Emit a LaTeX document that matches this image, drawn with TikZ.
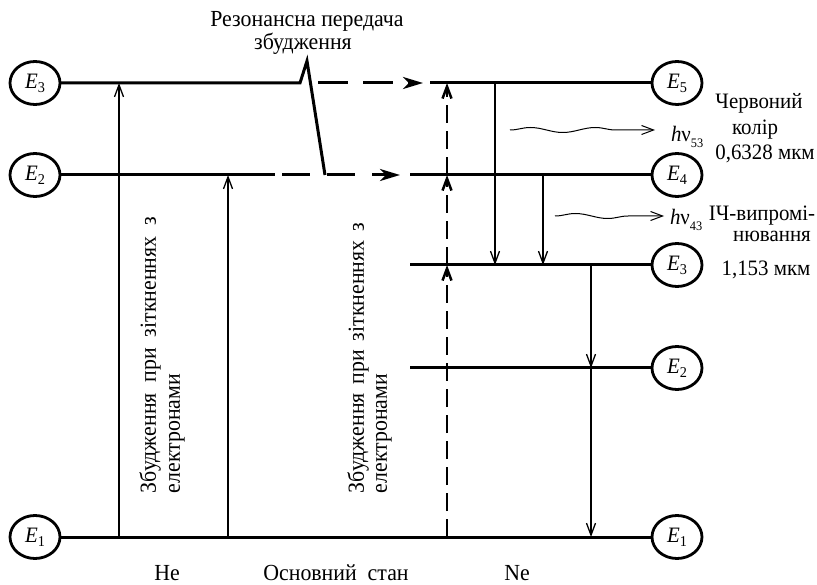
\documentclass[tikz,border=0pt]{standalone}
\usepackage{fontspec}
\setmainfont{Liberation Serif}[FakeStretch=0.95]
\usetikzlibrary{arrows.meta,decorations.pathmorphing,shapes.geometric}
\newcommand{\elab}[1]{\textit{E}\raisebox{-0.4ex}{\fontsize{15}{15}\selectfont #1}}
\newcommand{\hnu}[1]{\textit{h}ν\raisebox{-0.5ex}{\fontsize{13}{13}\selectfont #1}}
\begin{document}
\begin{tikzpicture}[x=1pt,y=-1pt,
  every node/.style={inner sep=0pt,outer sep=0pt},
  txt/.style={font=\fontsize{23}{26}\selectfont},
  rtxt/.style={font=\fontsize{22}{25}\selectfont},
  lvlcirc/.style={draw,ellipse,line width=2.8pt,minimum width=50pt,minimum height=43pt,font=\fontsize{22}{25}\selectfont},
  level/.style={line width=3pt},
  trans/.style={line width=1.3pt,-{Straight Barb[length=12pt,width=9pt]}},
  hdash/.style={line width=3pt,dash pattern=on 28pt off 17pt,-{Stealth[length=20pt,width=12pt,inset=6pt]}},
  hdashb/.style={line width=3pt,dash pattern=on 30pt off 15pt,-{Stealth[length=20pt,width=12pt,inset=6pt]}},
  dvert/.style={line width=2.5pt,dash pattern=on 18pt off 8pt,-{Straight Barb[length=12pt,width=9pt]}},
  wave/.style={line width=1pt,decorate,decoration={snake,amplitude=2.5pt,segment length=65pt,post length=10pt},-{Straight Barb[length=12pt,width=9pt]}}
]
\useasboundingbox (0,0) rectangle (817,585);
% circles
\node[lvlcirc] (cHe3) at (35,83) {\elab{3}};
\node[lvlcirc] (cHe2) at (35,175) {\elab{2}};
\node[lvlcirc] (cHe1) at (35,537) {\elab{1}};
\node[lvlcirc] (cNe5) at (677,83) {\elab{5}};
\node[lvlcirc] (cNe4) at (677,175) {\elab{4}};
\node[lvlcirc] (cNe3) at (677,265) {\elab{3}};
\node[lvlcirc] (cNe2) at (677,368) {\elab{2}};
\node[lvlcirc] (cNe1) at (677,537) {\elab{1}};
% coordinates
\coordinate (he3z) at (300,83);
\coordinate (peak) at (307,61);
\coordinate (he2z) at (325,175);
\coordinate (he2e) at (275,175);
\coordinate (d2s) at (282,175);
\coordinate (d2e) at (400,175);
\coordinate (d3s) at (318,83);
\coordinate (d3e) at (423,83);
\coordinate (n5) at (430,83);
\coordinate (n4) at (410,175);
\coordinate (n3) at (410,265);
\coordinate (n2) at (410,368);
% He levels
\draw[level,line join=miter] (cHe3.east) -- (he3z) -- (peak) -- (he2z);
\draw[level] (cHe2.east) -- (he2e);
\draw[level] (cHe1.east) -- (cNe1.west);
\draw[hdash] (d2s) -- (d2e);
\draw[hdashb] (d3s) -- (d3e);
% Ne levels
\draw[level] (n5) -- (cNe5.west);
\draw[level] (n4) -- (cNe4.west);
\draw[level] (n3) -- (cNe3.west);
\draw[level] (n2) -- (cNe2.west);
% He excitation
\coordinate (a1b) at (119,537); \coordinate (a1t) at (119,83);
\coordinate (a2b) at (228,537); \coordinate (a2t) at (228,175);
\draw[trans] (a1b) -- (a1t);
\draw[trans] (a2b) -- (a2t);
% Ne dashed excitation
\coordinate (v1) at (447,537); \coordinate (v3) at (447,265);
\coordinate (v4) at (447,175); \coordinate (v5) at (447,83);
\draw[dvert] (v1) -- (v3);
\draw[dvert] (v3) -- (v4);
\draw[dvert] (v4) -- (v5);
% Ne transitions
\coordinate (t1a) at (495,83); \coordinate (t1b) at (495,265);
\coordinate (t2a) at (543,175); \coordinate (t2b) at (543,265);
\coordinate (t3a) at (591,265); \coordinate (t3b) at (591,368); \coordinate (t3c) at (591,537);
\draw[trans] (t1a) -- (t1b);
\draw[trans] (t2a) -- (t2b);
\draw[trans] (t3a) -- (t3b);
\draw[trans] (t3b) -- (t3c);
% waves
\coordinate (w1s) at (510,130); \coordinate (w1e) at (655,130);
\coordinate (w2s) at (555,216); \coordinate (w2e) at (664,216);
\draw[wave] (w1s) -- (w1e);
\draw[wave] (w2s) -- (w2e);
% labels
\node[rtxt,anchor=base west] (h53) at (671,142) {\hnu{53}};
\node[rtxt,anchor=base west] (h43) at (670,225) {\hnu{43}};
\node[rtxt,anchor=base] (r1) at (759,109) {Червоний};
\node[rtxt,anchor=base] (r2) at (755,135) {колір};
\node[rtxt,anchor=base] (r3) at (765,160) {0,6328 мкм};
\node[rtxt,anchor=base] (r4) at (762,221) {ІЧ-випромі-};
\node[rtxt,anchor=base] (r5) at (772,242) {нювання};
\node[rtxt,anchor=base] (r6) at (766,276) {1,153 мкм};
\node[txt,anchor=base] (t1) at (307,27) {Резонансна передача};
\node[txt,anchor=base] (t2) at (303,50) {збудження};
\node[txt,anchor=base] (b1) at (167,580) {He};
\node[txt,anchor=base] (b2) at (336,580) {Основний\ \ стан};
\node[txt,anchor=base] (b3) at (517,580) {Ne};
% vertical texts
\node[txt,rotate=90,anchor=west] (vl1) at (150,493) {\makebox[276pt][s]{Збудження\ при\ зіткненнях\ з}};
\node[txt,rotate=90,anchor=west] (vl2) at (177,493) {електронами};
\node[txt,rotate=90,anchor=west] (vr1) at (358,493) {\makebox[270pt][s]{Збудження\ при зіткненнях\ з}};
\node[txt,rotate=90,anchor=west] (vr2) at (384,493) {електронами};
\end{tikzpicture}
\end{document}
